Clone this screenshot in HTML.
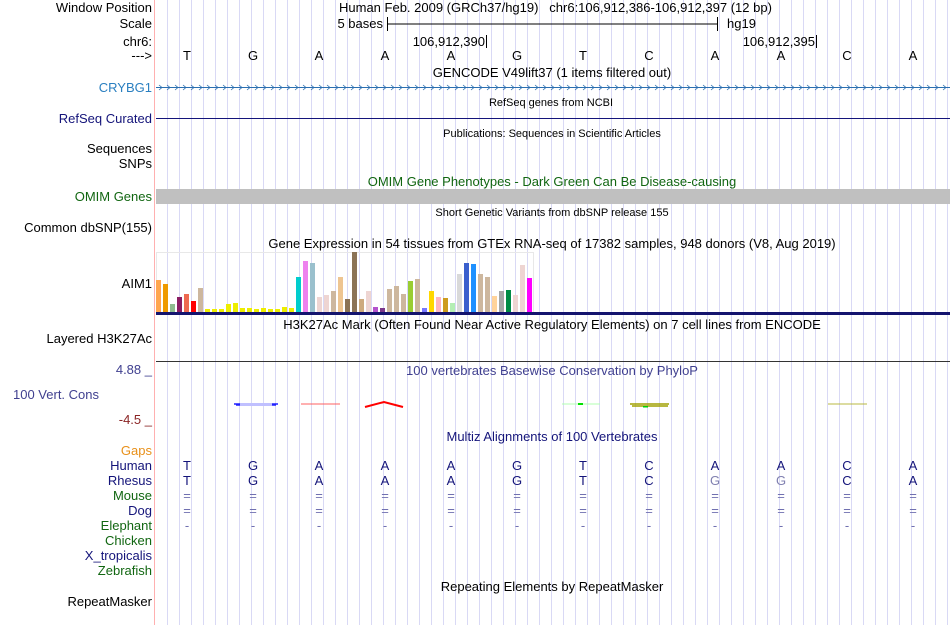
<!DOCTYPE html>
<html><head><meta charset="utf-8"><style>
body{margin:0;background:#fff;}
#page{position:relative;width:950px;height:625px;overflow:hidden;background:#fff;font-family:"Liberation Sans",sans-serif;font-size:13px;color:#000;}
#grid{position:absolute;left:156px;top:0;width:794px;height:625px;background:repeating-linear-gradient(90deg,transparent 0,transparent 11px,#d9d9f5 11px,#d9d9f5 12px);}
#pink{position:absolute;left:154px;top:0;width:1px;height:625px;background:#ffb0b0;}
.lbl{position:absolute;right:798px;white-space:nowrap;line-height:15px;}
.t{position:absolute;white-space:nowrap;line-height:15px;}
.r{position:absolute;white-space:nowrap;line-height:15px;}
.c{transform:translateX(-50%);}
.sm{font-size:11px;}
svg{position:absolute;left:0;top:0;}
</style></head><body>
<div id="page">
<div id="grid"></div>
<div id="pink"></div>

<div class="lbl" style="top:0px">Window Position</div>
<div class="lbl" style="top:16px">Scale</div>
<div class="lbl" style="top:34px">chr6:</div>
<div class="lbl" style="top:48px">---&gt;</div>
<div class="t" style="left:339px;top:0px">Human Feb. 2009 (GRCh37/hg19)&nbsp;&nbsp;&nbsp;chr6:106,912,386-106,912,397 (12 bp)</div>
<div class="r" style="right:567px;top:16px">5 bases</div>
<div class="t" style="left:727px;top:16px">hg19</div>
<div class="r" style="right:465px;top:34px">106,912,390</div>
<div class="r" style="right:135px;top:34px">106,912,395</div>

<div class="t c" style="left:552px;top:65px">GENCODE V49lift37 (1 items filtered out)</div>
<div class="lbl" style="top:80px;color:#2a7fc0">CRYBG1</div>
<div class="t c sm" style="left:551px;top:96px">RefSeq genes from NCBI</div>
<div class="lbl" style="top:111px;color:#14147a">RefSeq Curated</div>
<div class="t c sm" style="left:552px;top:127px">Publications: Sequences in Scientific Articles</div>
<div class="lbl" style="top:141px">Sequences</div>
<div class="lbl" style="top:156px">SNPs</div>
<div class="t c" style="left:552px;top:174px;color:#116611">OMIM Gene Phenotypes - Dark Green Can Be Disease-causing</div>
<div class="lbl" style="top:189px;color:#116611">OMIM Genes</div>
<div style="position:absolute;left:156px;top:189px;width:794px;height:15px;background:#c0c0c0"></div>
<div class="t c sm" style="left:552px;top:206px">Short Genetic Variants from dbSNP release 155</div>
<div class="lbl" style="top:220px">Common dbSNP(155)</div>
<div class="t c" style="left:552px;top:236px">Gene Expression in 54 tissues from GTEx RNA-seq of 17382 samples, 948 donors (V8, Aug 2019)</div>
<div class="lbl" style="top:276px">AIM1</div>
<div class="t c" style="left:552px;top:317px">H3K27Ac Mark (Often Found Near Active Regulatory Elements) on 7 cell lines from ENCODE</div>
<div class="lbl" style="top:331px">Layered H3K27Ac</div>
<div class="lbl" style="top:362px;color:#404090">4.88 _</div>
<div class="t c" style="left:552px;top:363px;color:#404090">100 vertebrates Basewise Conservation by PhyloP</div>
<div class="t" style="left:13px;top:387px;color:#404090">100 Vert. Cons</div>
<div class="lbl" style="top:412px;color:#8b2525">-4.5 _</div>
<div class="t c" style="left:552px;top:429px;color:#14147a">Multiz Alignments of 100 Vertebrates</div>
<div class="lbl" style="top:443px;color:#e8901a">Gaps</div>
<div class="lbl" style="top:458px;color:#14147a">Human</div>
<div class="lbl" style="top:473px;color:#14147a">Rhesus</div>
<div class="lbl" style="top:488px;color:#116611">Mouse</div>
<div class="lbl" style="top:503px;color:#14147a">Dog</div>
<div class="lbl" style="top:518px;color:#116611">Elephant</div>
<div class="lbl" style="top:533px;color:#116611">Chicken</div>
<div class="lbl" style="top:548px;color:#14147a">X_tropicalis</div>
<div class="lbl" style="top:563px;color:#116611">Zebrafish</div>
<div class="t c" style="left:552px;top:579px">Repeating Elements by RepeatMasker</div>
<div class="lbl" style="top:594px">RepeatMasker</div>

<svg id="svg" width="950" height="625">
<line x1="387" y1="24" x2="717" y2="24" stroke="#000"/>
<line x1="387.5" y1="17" x2="387.5" y2="31" stroke="#000"/>
<line x1="717.5" y1="17" x2="717.5" y2="31" stroke="#000"/>
<line x1="486.5" y1="35" x2="486.5" y2="48" stroke="#000"/>
<line x1="816.5" y1="35" x2="816.5" y2="48" stroke="#000"/>
<line x1="156" y1="87.5" x2="950" y2="87.5" stroke="#2a6fb0"/>
<line x1="156" y1="118.5" x2="950" y2="118.5" stroke="#14147a"/>
<rect x="156.5" y="252.5" width="377" height="61" fill="none" stroke="#e8e8e8"/>
<rect x="156" y="312" width="794" height="3" fill="#14146e"/>
<line x1="156" y1="361.5" x2="950" y2="361.5" stroke="#333"/>
<g>
<path d="M234 404 L278 404 M236 405 L276 405" stroke="#2020ff" stroke-width="1.5" fill="none"/>
<rect x="240" y="403" width="32" height="3" fill="#c0c0ff"/>
<line x1="301" y1="404" x2="340" y2="404" stroke="#ff6060"/>
<path d="M365 407 L384 402 L403 407" stroke="#ff0000" stroke-width="2" fill="none"/>
<line x1="562" y1="404" x2="600" y2="404" stroke="#b0ffb0"/>
<rect x="578" y="403" width="5" height="2" fill="#00e000"/>
<path d="M630 404 L669 404 M632 406 L668 406" stroke="#a0a000" stroke-width="1.5" fill="none"/>
<rect x="643" y="406" width="5" height="1.5" fill="#00d000"/>
<line x1="828" y1="404" x2="867" y2="404" stroke="#b8b840"/>
</g>
</svg>
<script>
const ns="http://www.w3.org/2000/svg";
const svg=document.getElementById('svg');
const page=document.getElementById('page');
const bases=["T","G","A","A","A","G","T","C","A","A","C","A"];
const rhesus=["T","G","A","A","A","G","T","C","G","G","C","A"];
const gtexValues=[32,28,8,15,18,11,24,3,3,3,8,9,4,4,3,4,3,3,5,4,35,51,49,15,17,21,35,13,60,13,21,5,4,23,26,18,31,33,4,21,15,14,9,38,49,48,38,35,16,21,22,17,47,34];
const gtexColors=["#FFA54F","#EE9A00","#8FBC8F","#8B1C62","#EE6A50","#FF0000","#CDB79E","#EEEE00","#EEEE00","#EEEE00","#EEEE00","#EEEE00","#EEEE00","#EEEE00","#EEEE00","#EEEE00","#EEEE00","#EEEE00","#EEEE00","#EEEE00","#00CDCD","#EE82EE","#9AC0CD","#EED5D2","#EED5D2","#CDB79E","#EEC591","#8B7355","#8B7355","#CDAA7D","#EED5D2","#B452CD","#7A378B","#CDB79E","#CDB79E","#CDB79E","#9ACD32","#CDB79E","#7777FF","#FFD700","#FFB6C1","#CD9B1D","#B4EEB4","#D9D9D9","#3A5FCD","#1E90FF","#CDB79E","#CDB79E","#FFD39B","#A6A6A6","#008B45","#EED5D2","#EED5D2","#FF00FF"];
const gtexMax=60;
function baseX(i){return 187+66*i;}
function barX(i){return 156+7*i;}
function barH(v){return v/gtexMax*60;}
function txt(x,y,s,color,name){
  const d=document.createElement('div');
  d.className='t c';d.style.left=x+'px';d.style.top=y+'px';d.style.color=color;d.textContent=s;
  
  
  page.appendChild(d);
}
bases.forEach((b,i)=>{
  txt(baseX(i),48,b,'#000','ruler-base');
  txt(baseX(i),458,b,'#14147a','human-base');
  txt(baseX(i),473,rhesus[i],rhesus[i]===b?'#14147a':'#8080b0','rhesus-base');
  txt(baseX(i),488,'=','#7070b0','mouse-base');
  txt(baseX(i),503,'=','#7070b0','dog-base');
  txt(baseX(i),518,'-','#7070b0','elephant-base');
});
gtexValues.forEach((v,i)=>{
  const r=document.createElementNS(ns,'rect');
  const h=barH(v);
  r.setAttribute('x',barX(i));r.setAttribute('y',312-h);r.setAttribute('width',5);r.setAttribute('height',h);
  r.setAttribute('fill',gtexColors[i]);
  
  
  svg.appendChild(r);
});
let p='';
for(let x=159;x<950;x+=8){p+='M'+x+' 85 L'+(x+3)+' 87.5 L'+x+' 90 ';}
const ch=document.createElementNS(ns,'path');
ch.setAttribute('d',p);ch.setAttribute('stroke','#2a6fb0');ch.setAttribute('fill','none');ch.setAttribute('stroke-width','0.8');


svg.appendChild(ch);
</script>
</div>
</body></html>
